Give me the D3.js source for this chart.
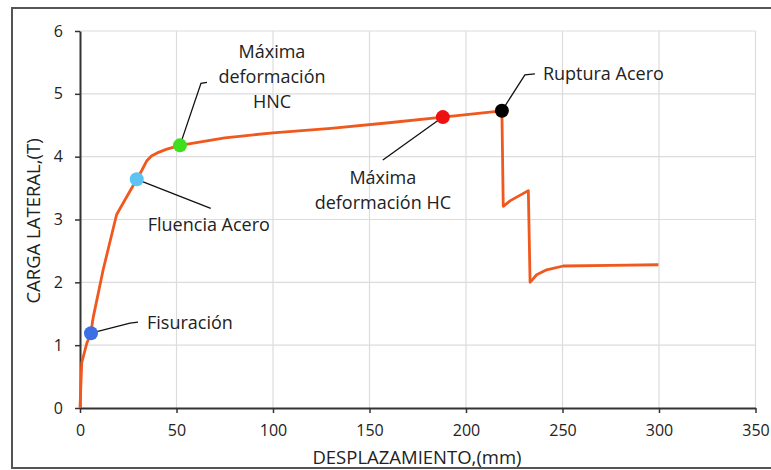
<!DOCTYPE html>
<html>
<head>
<meta charset="utf-8">
<script src="https://cdn.jsdelivr.net/npm/d3@7"></script>
<style>
  body { margin: 0; background: #fff; }
  text { font-family: "Open Sans", sans-serif; fill: #222; }
</style>
</head>
<body>
<svg id="chart" width="771" height="470"></svg>
<script>
// curve
const dispMm = [0, 0.9, 3.5, 5.7, 6.5, 6.9, 12, 18.5, 19, 24, 29.4, 32, 34.5, 37, 40, 45, 51.8, 75, 100, 130, 160, 188, 218.6, 219.3, 223, 232.3, 233.2, 236.6, 241.8, 250.4, 275, 299.7];
const loadT  = [0, 0.72, 1.03, 1.19, 1.38, 1.45, 2.2, 3.02, 3.08, 3.35, 3.64, 3.78, 3.93, 4.01, 4.06, 4.12, 4.18, 4.30, 4.38, 4.45, 4.54, 4.63, 4.73, 3.21, 3.30, 3.46, 2.00, 2.12, 2.20, 2.26, 2.27, 2.28];

// marked events
const eventLines = [["Fisuración"], ["Fluencia Acero"], ["Máxima", "deformación", "HNC"], ["Máxima", "deformación HC"], ["Ruptura Acero"]];
const eventX = [5.7, 29.4, 51.8, 188, 218.6];
const eventY = [1.19, 3.64, 4.18, 4.63, 4.73];
const eventColors = ["#3b6fe6", "#5cc3f2", "#3ee01e", "#ee1111", "#000000"];

const xTicks = [0, 50, 100, 150, 200, 250, 300, 350];
const yTicks = [0, 1, 2, 3, 4, 5, 6];

const svg = d3.select("#chart");

// outer frame
svg.append("rect")
    .attr("x", 12).attr("y", 8)
    .attr("width", 800).attr("height", 460)
    .attr("fill", "none")
    .attr("stroke", "#555")
    .attr("stroke-width", 2);

const x = d3.scaleLinear().domain([0, 350]).range([80, 755.5]);
const y = d3.scaleLinear().domain([0, 6]).range([408, 31]);

// grid
svg.append("g").selectAll("line")
    .data(xTicks.slice(1))
    .join("line")
    .attr("x1", d => x(d)).attr("x2", d => x(d))
    .attr("y1", y(0)).attr("y2", y(6))
    .attr("stroke", "#dcdcdc").attr("stroke-width", 1.2);

svg.append("g").selectAll("line")
    .data(yTicks.slice(1))
    .join("line")
    .attr("x1", x(0)).attr("x2", x(350))
    .attr("y1", d => y(d)).attr("y2", d => y(d))
    .attr("stroke", "#dcdcdc").attr("stroke-width", 1.2);

// axes
const xAxis = svg.append("g")
    .attr("transform", `translate(0,${y(0)})`)
    .call(d3.axisBottom(x).tickValues(xTicks).tickFormat(d3.format("d"))
        .tickSize(5).tickSizeOuter(0).tickPadding(12));

const yAxis = svg.append("g")
    .attr("transform", `translate(${x(0)},0)`)
    .call(d3.axisLeft(y).tickValues(yTicks).tickFormat(d3.format("d"))
        .tickSize(5).tickSizeOuter(0).tickPadding(12));

[xAxis, yAxis].forEach(a => {
    a.select(".domain").attr("stroke", "#333").attr("stroke-width", 2);
    a.selectAll(".tick line").attr("stroke", "#333").attr("stroke-width", 1.5);
    a.selectAll(".tick text")
        .attr("font-family", "Open Sans, sans-serif")
        .attr("font-size", 16)
        .attr("fill", "#333");
});

// axis titles
svg.append("text")
    .attr("x", 417).attr("y", 464)
    .attr("text-anchor", "middle")
    .attr("font-size", 18.5)
    .text("DESPLAZAMIENTO,(mm)");

svg.append("text")
    .attr("transform", "translate(40,221) rotate(-90)")
    .attr("text-anchor", "middle")
    .attr("font-size", 18.5)
    .text("CARGA LATERAL,(T)");

// curve
const line = d3.line().x((d, i) => x(dispMm[i])).y((d, i) => y(loadT[i]));

svg.append("path")
    .datum(loadT)
    .attr("d", line)
    .attr("fill", "none")
    .attr("stroke", "#f0581e")
    .attr("stroke-width", 2.8)
    .attr("stroke-linejoin", "round");

// leader lines and labels (pixel offsets from the marker)
const leaderOffsets = [
    [[0, 0], [39, -10], [47, -11]],
    [[0, 0], [74, 29]],
    [[0, 0], [21, -62], [27, -63]],
    [[0, 0], [-60, 43]],
    [[0, 0], [23, -36], [33, -37]]
];
const labelPos = [
    [56, -9, "start"],
    [11, 47, "start"],
    [92, -92, "middle"],
    [-60, 62, "middle"],
    [41, -36, "start"]
];

eventX.forEach((ev, i) => {
    const cx = x(ev), cy = y(eventY[i]);
    svg.append("path")
        .attr("d", d3.line()(leaderOffsets[i].map(p => [cx + p[0], cy + p[1]])))
        .attr("fill", "none")
        .attr("stroke", "#111")
        .attr("stroke-width", 1.3);

    svg.append("circle")
        .attr("cx", cx).attr("cy", cy)
        .attr("r", 7)
        .attr("fill", eventColors[i]);

    const t = svg.append("text")
        .attr("x", cx + labelPos[i][0])
        .attr("y", cy + labelPos[i][1])
        .attr("text-anchor", labelPos[i][2])
        .attr("dominant-baseline", "middle")
        .attr("font-size", 18);
    eventLines[i].forEach((s, j) => {
        t.append("tspan")
            .attr("x", cx + labelPos[i][0])
            .attr("dy", j === 0 ? 0 : 25)
            .text(s);
    });
});
</script>
</body>
</html>
